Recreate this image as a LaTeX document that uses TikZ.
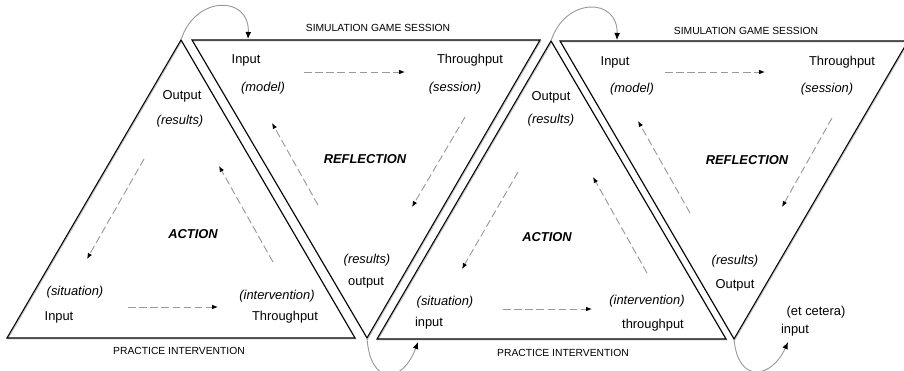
\documentclass[tikz,border=0pt]{standalone}
\usepackage{fontspec}
\setmainfont{Liberation Sans}
\usepackage{tikz}
\usetikzlibrary{arrows.meta}
\definecolor{gris}{HTML}{9A9A9A}
\definecolor{grisclair}{HTML}{C4C4C4}

\begin{document}
\begin{tikzpicture}[x=0.03cm,y=-0.03cm,
  cote/.style={line width=0.9pt,black,line join=miter,
    preaction={draw=grisclair,line width=0.9pt,
      transform canvas={xshift=0.7pt,yshift=-0.7pt}}},
  fleche/.style={gris,line width=0.8pt,dash pattern=on 6.5pt off 3pt,
    -{Latex[black,length=5pt,width=4pt]}},
  boucle/.style={gris,line width=0.8pt,-{Latex[black,length=6pt,width=5pt]}},
  txt/.style={inner sep=0pt,font=\fontsize{11}{13}\selectfont},
  ital/.style={txt,font=\fontsize{11}{13}\selectfont\itshape},
  titre/.style={txt,font=\fontsize{11}{13}\selectfont\bfseries\itshape},
  legende/.style={inner sep=0pt,font=\fontsize{8.8}{10}\selectfont}]

  \useasboundingbox (0,0) rectangle (904,371);
  \clip (0,0) rectangle (904,371);

  % triangle corners
  \coordinate (A1) at (181,40);
  \coordinate (A2) at (7,338);
  \coordinate (A3) at (355,338);
  \coordinate (B1) at (192,40);
  \coordinate (B2) at (540,40);
  \coordinate (B3) at (367,338);
  \coordinate (C1) at (551,41);
  \coordinate (C2) at (377,339);
  \coordinate (C3) at (726,339);
  \coordinate (D1) at (560,41);
  \coordinate (D2) at (908,41);
  \coordinate (D3) at (734,339);

  \draw[cote] (A1) -- (A2) -- (A3) -- cycle;
  \draw[cote] (B1) -- (B2) -- (B3) -- cycle;
  \draw[cote] (C1) -- (C2) -- (C3) -- cycle;
  \draw[cote] (D1) -- (D2) -- (D3) -- cycle;

  % loops between the triangles
  \coordinate (K1) at (248,39);
  \coordinate (K2) at (418,342);
  \coordinate (K3) at (617,40);
  \coordinate (K4) at (788,342);
  \draw[boucle] (A1) .. controls (195,-5) and (250,-5) .. (K1);
  \draw[boucle] (B3) .. controls (370,385) and (402,385) .. (K2);
  \draw[boucle] (C1) .. controls (565,-3) and (618,-3) .. (K3);
  \draw[boucle] (D3) .. controls (738,385) and (772,378) .. (K4);

  % first action
  \node[txt] at (182,96) (out1) {Output};
  \node[ital] at (180,121) (res1) {(results)};
  \node[titre] at (193,234) (act1) {ACTION};
  \node[ital] at (75,292) (sit1) {(situation)};
  \node[txt] at (59,317) (inp1) {Input};
  \node[ital] at (277,296) (int1) {(intervention)};
  \node[txt] at (285,317) (thr1) {Throughput};
  \node[legende] at (179,351) (pra1) {PRACTICE INTERVENTION};

  \coordinate (a1h) at (128,307); \coordinate (a2h) at (218,307);
  \coordinate (a1d) at (144,159); \coordinate (a2d) at (87,259);
  \coordinate (a1u) at (273,262); \coordinate (a2u) at (219,166);
  \draw[fleche] (a1h) -- (a2h);
  \draw[fleche] (a1d) -- (a2d);
  \draw[fleche] (a1u) -- (a2u);

  % first reflection
  \node[legende] at (378,28) (sim1) {SIMULATION GAME SESSION};
  \node[txt] at (246,60) (inp2) {Input};
  \node[ital] at (263,88) (mod1) {(model)};
  \node[txt] at (470,60) (thr2) {Throughput};
  \node[ital] at (455,88) (ses1) {(session)};
  \node[titre] at (365,159) (ref1) {REFLECTION};
  \node[ital] at (367,260) (res2) {(results)};
  \node[txt] at (366,283) (out2) {output};

  \coordinate (b1h) at (304,72); \coordinate (b2h) at (405,72);
  \coordinate (b1d) at (465,117); \coordinate (b2d) at (412,207);
  \coordinate (b1u) at (318,205); \coordinate (b2u) at (272,123);
  \draw[fleche] (b1h) -- (b2h);
  \draw[fleche] (b1d) -- (b2d);
  \draw[fleche] (b1u) -- (b2u);

  % second action
  \node[txt] at (551,97) (out3) {Output};
  \node[ital] at (551,120) (res3) {(results)};
  \node[titre] at (547,237) (act2) {ACTION};
  \node[ital] at (445,302) (sit2) {(situation)};
  \node[txt] at (429,323) (inp3) {input};
  \node[ital] at (647,301) (int2) {(intervention)};
  \node[txt] at (653,325) (thr3) {throughput};
  \node[legende] at (563,353) (pra2) {PRACTICE INTERVENTION};

  \coordinate (c1h) at (503,309); \coordinate (c2h) at (592,309);
  \coordinate (c1d) at (518,172); \coordinate (c2d) at (462,269);
  \coordinate (c1u) at (647,273); \coordinate (c2u) at (593,177);
  \draw[fleche] (c1h) -- (c2h);
  \draw[fleche] (c1d) -- (c2d);
  \draw[fleche] (c1u) -- (c2u);

  % second reflection
  \node[legende] at (746,31) (sim2) {SIMULATION GAME SESSION};
  \node[txt] at (615,62) (inp4) {Input};
  \node[ital] at (632,89) (mod2) {(model)};
  \node[txt] at (842,62) (thr4) {Throughput};
  \node[ital] at (827,89) (ses2) {(session)};
  \node[titre] at (747,160) (ref2) {REFLECTION};
  \node[ital] at (735,261) (res4) {(results)};
  \node[txt] at (735,285) (out4) {Output};
  \node[txt] at (816,312) (etc1) {(et cetera)};
  \node[txt] at (795,330) (inp5) {input};

  \coordinate (d1h) at (665,72); \coordinate (d2h) at (765,72);
  \coordinate (d1d) at (832,118); \coordinate (d2d) at (782,207);
  \coordinate (d1u) at (690,213); \coordinate (d2u) at (638,121);
  \draw[fleche] (d1h) -- (d2h);
  \draw[fleche] (d1d) -- (d2d);
  \draw[fleche] (d1u) -- (d2u);

\end{tikzpicture}
\end{document}
